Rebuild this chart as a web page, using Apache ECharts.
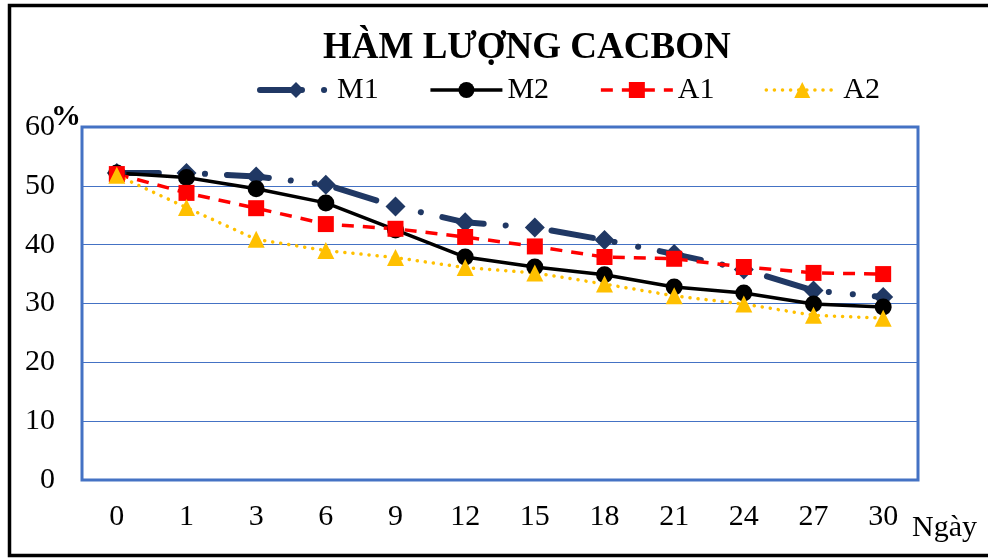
<!DOCTYPE html>
<html>
<head>
<meta charset="utf-8">
<script src="https://cdn.jsdelivr.net/npm/echarts@6/dist/echarts.min.js"></script>
<style>html,body{margin:0;padding:0;background:#fff;}#c{width:988px;height:559px;}</style>
</head>
<body>
<div id="c"></div>
<script>
const categories = ['0','1','3','6','9','12','15','18','21','24','27','30'];
const M1 = [52.2, 52.2, 51.6, 50.2, 46.5, 43.8, 42.9, 40.8, 38.4, 35.8, 32.2, 31.1];
const M2 = [52.2, 51.4, 49.5, 47.1, 42.5, 37.9, 36.2, 34.9, 32.8, 31.8, 29.9, 29.4];
const A1 = [52.0, 48.8, 46.2, 43.5, 42.7, 41.3, 39.7, 37.9, 37.6, 36.2, 35.2, 35.0];
const A2 = [51.8, 46.3, 40.9, 39.0, 37.8, 36.1, 35.2, 33.3, 31.3, 29.9, 28.0, 27.5];
const yTicks = [0, 10, 20, 30, 40, 50, 60];

const serif = '"Liberation Serif", "DejaVu Serif", serif';
const chart = echarts.init(document.getElementById('c'));
chart.setOption({
  animation: false,
  backgroundColor: '#fff',
  title: {
    text: 'HÀM LƯỢNG CACBON',
    left: 318, top: 25,
    textStyle: {fontFamily: serif, fontSize: 37, fontWeight: 'bold', color: '#000'}
  },
  legend: {
    left: 252, top: 70,
    itemWidth: 72, itemHeight: 20, itemGap: 50,
    textStyle: {fontFamily: serif, fontSize: 30, color: '#000'},
    data: [
      {name: 'M1', lineStyle: {width: 6}},
      {name: 'M2', lineStyle: {width: 3.5}},
      {name: 'A1', lineStyle: {width: 3.5}},
      {name: 'A2', lineStyle: {width: 3.5}}
    ]
  },
  graphic: [{
    type: 'rect', silent: true, z: 100,
    shape: {x: 9.5, y: 5.5, width: 1000, height: 550},
    style: {fill: 'none', stroke: '#000', lineWidth: 3.5}
  }],
  grid: {left: 82, top: 127, right: 70, bottom: 79, show: true, borderColor: '#4472C4', borderWidth: 3},
  xAxis: {
    type: 'category', data: categories, boundaryGap: true,
    name: 'Ngày', nameLocation: 'end', nameGap: -6, nameMoveOverlap: false,
    nameTextStyle: {fontFamily: serif, fontSize: 30, color: '#000', align: 'left', verticalAlign: 'top', padding: [33,0,0,0]},
    axisLine: {show: false}, axisTick: {show: false},
    axisLabel: {fontFamily: serif, fontSize: 30, color: '#000', margin: 22}
  },
  yAxis: {
    type: 'value', min: yTicks[0], max: yTicks[yTicks.length-1], interval: 10,
    name: '%', nameLocation: 'end', nameGap: 10, nameMoveOverlap: false,
    nameTextStyle: {fontFamily: serif, fontSize: 30, fontWeight: 'bold', color: '#000', align: 'right', verticalAlign: 'middle', padding: [0,1,0,0]},
    axisLine: {show: false}, axisTick: {show: false},
    axisLabel: {fontFamily: serif, fontSize: 30, color: '#000', margin: 27},
    splitLine: {lineStyle: {color: '#4472C4', width: 1}}
  },
  series: [
    {name: 'M1', type: 'line', data: M1, symbol: 'diamond', symbolSize: 20,
     itemStyle: {color: '#203864'},
     lineStyle: {color: '#203864', width: 6, cap: 'round', type: [42, 22, 0.1, 24, 0.1, 22]}},
    {name: 'M2', type: 'line', data: M2, symbol: 'circle', symbolSize: 17,
     itemStyle: {color: '#000'},
     lineStyle: {color: '#000', width: 3.5, type: 'solid'}},
    {name: 'A1', type: 'line', data: A1, symbol: 'rect', symbolSize: 16,
     itemStyle: {color: '#FF0000'},
     lineStyle: {color: '#FF0000', width: 3.5, type: [12, 9]}},
    {name: 'A2', type: 'line', data: A2, symbol: 'triangle', symbolSize: 17,
     itemStyle: {color: '#FFC000'},
     lineStyle: {color: '#FFC000', width: 3.5, cap: 'round', type: [0.1, 8]}}
  ]
});
</script>
</body>
</html>
